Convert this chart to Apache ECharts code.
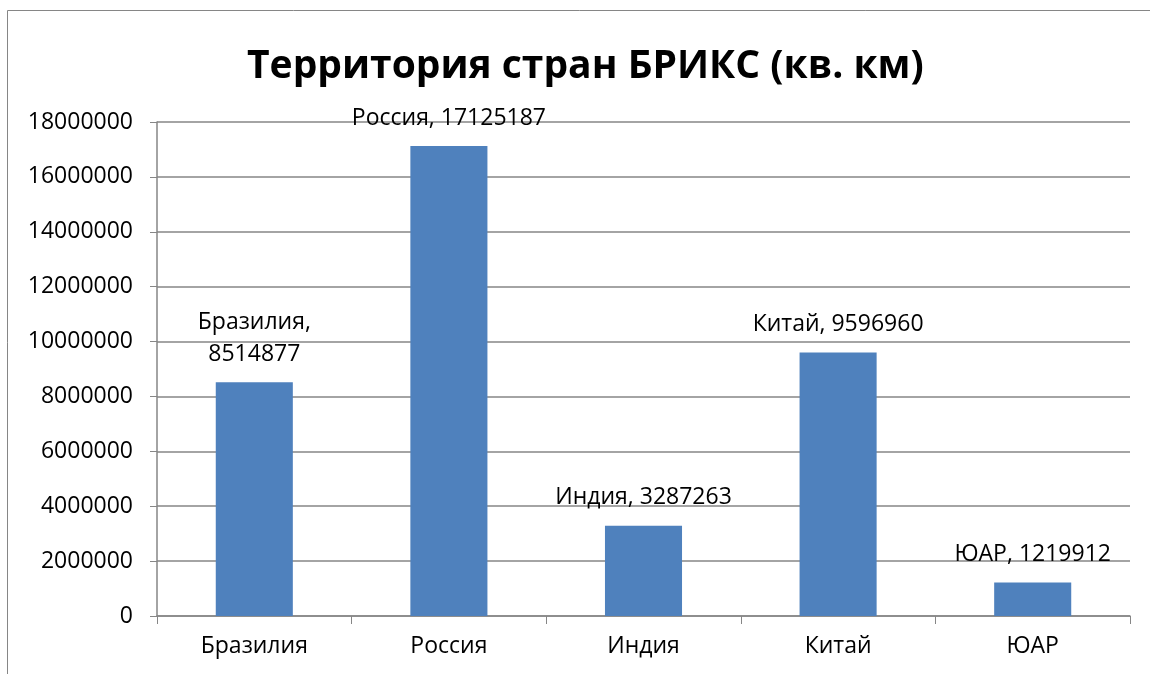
<!DOCTYPE html>
<html>
<head>
<meta charset="utf-8">
<title>Территория стран БРИКС</title>
<script src="https://cdn.jsdelivr.net/npm/echarts@6/dist/echarts.min.js"></script>
<style>
  html, body { margin: 0; padding: 0; background: #fff; }
  #chart { width: 1150px; height: 674px; }
</style>
</head>
<body>
<div id="chart"></div>
<script>
// data
const countries = ['Бразилия', 'Россия', 'Индия', 'Китай', 'ЮАР'];
const areas = [8514877, 17125187, 3287263, 9596960, 1219912];
// Excel wrapped the first label onto two lines
const labelWrap = [true, false, false, false, false];

const fontFamily = '"Open Sans", "Noto Sans", sans-serif';
const lineColor = '#868686';

const chart = echarts.init(document.getElementById('chart'));

const option = {
  animation: false,
  textStyle: { fontFamily: fontFamily },
  title: {
    text: 'Территория стран БРИКС (кв. км)',
    left: 242,
    top: 42,
    textStyle: { fontSize: 39, fontWeight: 'bold', color: '#000', fontFamily: fontFamily }
  },
  graphic: [{
    type: 'rect',
    shape: { x: 7.5, y: 10.5, width: 1200, height: 700 },
    style: { fill: 'none', stroke: lineColor, lineWidth: 1 },
    silent: true
  }],
  grid: { left: 157, right: 20, top: 122, bottom: 58 },
  xAxis: {
    type: 'category',
    data: countries,
    axisLine: { lineStyle: { color: lineColor, width: 1.5 } },
    axisTick: { show: true, length: 8, lineStyle: { color: lineColor } },
    axisLabel: { color: '#000', fontSize: 23, margin: 19 }
  },
  yAxis: {
    type: 'value',
    min: 0,
    max: 18000000,
    interval: 2000000,
    axisLine: { show: true, lineStyle: { color: lineColor, width: 1.5 } },
    axisTick: { show: true, length: 7, lineStyle: { color: lineColor } },
    splitLine: { lineStyle: { color: lineColor, width: 1.5 } },
    axisLabel: { color: '#000', fontSize: 23, margin: 24, formatter: v => String(v) }
  },
  series: [{
    type: 'bar',
    barWidth: '39.6%',
    itemStyle: { color: '#4F81BD' },
    data: areas.map((v, i) => ({
      value: v,
      label: {
        formatter: countries[i] + (labelWrap[i] ? ',\n' : ', ') + v
      }
    })),
    label: {
      show: true,
      position: 'top',
      distance: 12,
      color: '#000',
      fontSize: 23,
      lineHeight: 32
    }
  }]
};

chart.setOption(option);
</script>
</body>
</html>
